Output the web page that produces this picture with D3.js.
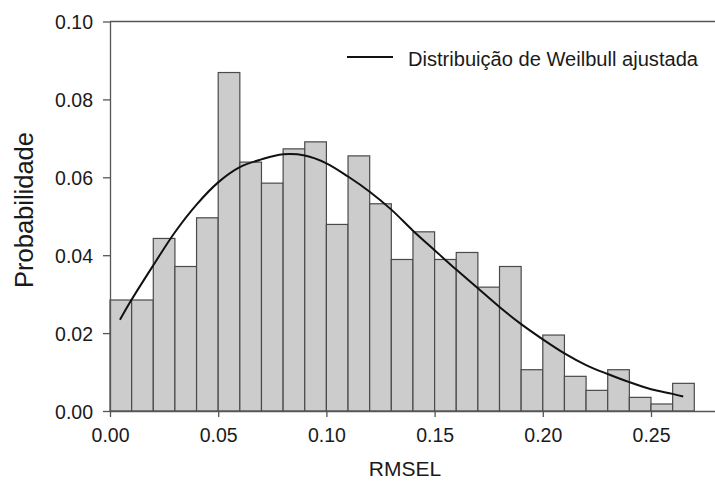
<!DOCTYPE html>
<html>
<head>
<meta charset="utf-8">
<script src="https://cdn.jsdelivr.net/npm/d3@7"></script>
<style>
  html, body { margin: 0; padding: 0; background: #fff; }
  svg { display: block; font-family: "Liberation Sans", Arial, sans-serif; }
</style>
</head>
<body>
<svg id="chart" width="715" height="481"></svg>
<script>
// ---- data ----
const binStart = [0.00,0.01,0.02,0.03,0.04,0.05,0.06,0.07,0.08,0.09,0.10,0.11,0.12,0.13,0.14,0.15,0.16,0.17,0.18,0.19,0.20,0.21,0.22,0.23,0.24,0.25,0.26];
const binWidth = 0.01;
const prob = [0.0285,0.0285,0.0443,0.0371,0.0496,0.0869,0.0639,0.0585,0.0673,0.0691,0.0479,0.0655,0.0532,0.0389,0.0460,0.0389,0.0407,0.0318,0.0371,0.0106,0.0195,0.0089,0.0053,0.0106,0.0035,0.0018,0.0071];

const fitX = [0.0046,0.01,0.02,0.03,0.04,0.05,0.06,0.07,0.08,0.09,0.10,0.11,0.12,0.13,0.14,0.15,0.16,0.17,0.18,0.19,0.20,0.21,0.22,0.23,0.24,0.25,0.26,0.2649];
const fitY = [0.0234,0.0286,0.0374,0.0459,0.0530,0.0587,0.0626,0.0646,0.0659,0.0656,0.0636,0.0602,0.0563,0.0517,0.0463,0.0413,0.0363,0.0315,0.0267,0.0223,0.0184,0.0148,0.0118,0.0095,0.0074,0.0056,0.0044,0.0037];

const xTicks = [0.00,0.05,0.10,0.15,0.20,0.25];
const yTicks = [0.00,0.02,0.04,0.06,0.08,0.10];
const xTitle = "RMSEL";
const yTitle = "Probabilidade";
const legendLabel = "Distribuição de Weilbull ajustada";

// ---- layout ----
const svg = d3.select("#chart");
const mLeft = 110, mRight = 715, mTop = 21.5, mBottom = 411;
const xMax = (mRight - mLeft) / 2164;
const x = d3.scaleLinear().domain([0, xMax]).range([mLeft, mRight]);
const y = d3.scaleLinear().domain([0, 0.10]).range([mBottom, mTop]);

const axisColor = "#555";
const textColor = "#1a1a1a";
const tickFont = 19.5;

// bars
svg.append("g").selectAll("rect")
  .data(binStart.map((b, i) => ({ b, v: prob[i] })))
  .join("rect")
  .attr("x", d => x(d.b))
  .attr("y", d => y(d.v))
  .attr("width", d => x(d.b + binWidth) - x(d.b))
  .attr("height", d => y(0) - y(d.v))
  .attr("fill", "#cccccc")
  .attr("stroke", "#4a4a4a")
  .attr("stroke-width", 1.2);

// fitted curve
const line = d3.line()
  .x((d, i) => x(fitX[i]))
  .y((d, i) => y(fitY[i]))
  .curve(d3.curveCatmullRom.alpha(0.5));
svg.append("path")
  .datum(fitX)
  .attr("d", line)
  .attr("fill", "none")
  .attr("stroke", "#111")
  .attr("stroke-width", 2);

// top frame line
svg.append("line")
  .attr("x1", mLeft).attr("x2", mRight)
  .attr("y1", mTop).attr("y2", mTop)
  .attr("stroke", axisColor).attr("stroke-width", 1.3);

// x axis
const gx = svg.append("g")
  .attr("transform", `translate(0,${mBottom})`)
  .call(d3.axisBottom(x).tickValues(xTicks).tickFormat(d3.format(".2f")).tickSize(6).tickSizeOuter(0));
gx.select(".domain").attr("stroke", axisColor).attr("stroke-width", 1.3);
gx.selectAll(".tick line").attr("stroke", axisColor).attr("stroke-width", 1.3);
gx.selectAll(".tick text")
  .attr("y", 30.5).attr("dy", null)
  .attr("font-size", tickFont)
  .attr("font-family", "Liberation Sans, Arial, sans-serif")
  .attr("fill", textColor);

// y axis
const gy = svg.append("g")
  .attr("transform", `translate(${mLeft},0)`)
  .call(d3.axisLeft(y).tickValues(yTicks).tickFormat(d3.format(".2f")).tickSize(7).tickSizeOuter(0));
gy.select(".domain").attr("stroke", axisColor).attr("stroke-width", 1.3);
gy.selectAll(".tick line").attr("stroke", axisColor).attr("stroke-width", 1.3);
gy.selectAll(".tick text")
  .attr("x", -17).attr("y", 7).attr("dy", null)
  .attr("text-anchor", "end")
  .attr("font-size", tickFont)
  .attr("font-family", "Liberation Sans, Arial, sans-serif")
  .attr("fill", textColor);

// axis titles
svg.append("text")
  .attr("x", 405).attr("y", 476)
  .attr("text-anchor", "middle")
  .attr("font-size", 21)
  .attr("fill", textColor)
  .text(xTitle);

svg.append("text")
  .attr("transform", "translate(33,210) rotate(-90)")
  .attr("text-anchor", "middle")
  .attr("font-size", 26)
  .attr("textLength", 156)
  .attr("lengthAdjust", "spacingAndGlyphs")
  .attr("fill", textColor)
  .text(yTitle);

// legend
svg.append("line")
  .attr("x1", 347).attr("x2", 393)
  .attr("y1", 57).attr("y2", 57)
  .attr("stroke", "#111").attr("stroke-width", 2);
svg.append("text")
  .attr("x", 408).attr("y", 66)
  .attr("font-size", 20)
  .attr("textLength", 290)
  .attr("lengthAdjust", "spacingAndGlyphs")
  .attr("fill", textColor)
  .text(legendLabel);
</script>
</body>
</html>
